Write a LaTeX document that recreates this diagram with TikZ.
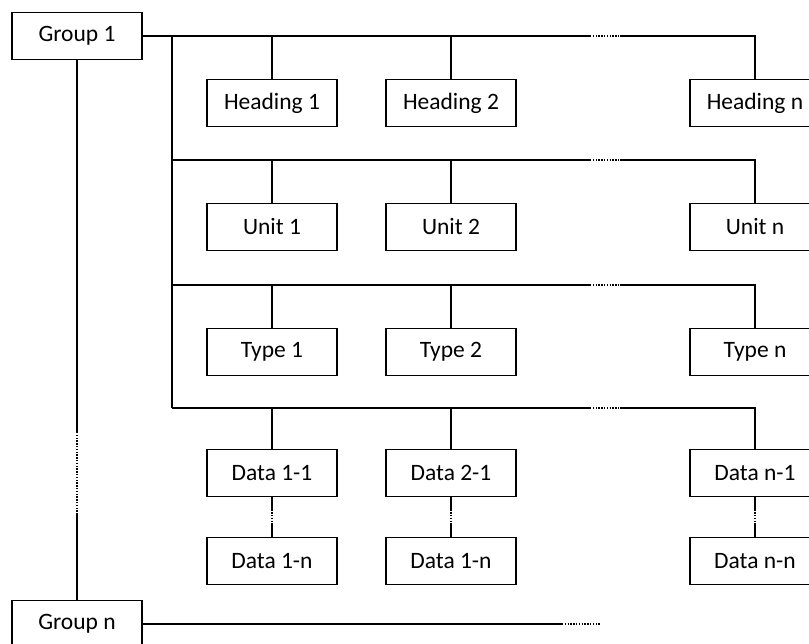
\documentclass[tikz,border=0pt]{standalone}
\usepackage{fontspec}
\setmainfont{Carlito}
\begin{document}
\begin{tikzpicture}[x=1pt,y=-1pt,
  box/.style={draw,line width=1.6pt,minimum width=130pt,minimum height=47pt,inner sep=0pt,font=\fontsize{23.5}{27}\selectfont},
  ln/.style={line width=1.6pt},
  dots/.style={line width=1.6pt,dash pattern=on 1.4pt off 1.4pt}]
\useasboundingbox (0,0) rectangle (809,644);
% groups
\node[box] (g1) at (77,36) {Group 1};
\node[box] (gn) at (77,624) {Group n};
% rows
\node[box] (h1) at (272,103) {Heading 1};
\node[box] (h2) at (451,103) {Heading 2};
\node[box] (hn) at (755,103) {Heading n};
\node[box] (u1) at (272,227) {Unit 1};
\node[box] (u2) at (451,227) {Unit 2};
\node[box] (un) at (755,227) {Unit n};
\node[box] (t1) at (272,352) {Type 1};
\node[box] (t2) at (451,352) {Type 2};
\node[box] (tn) at (755,352) {Type n};
\node[box] (d11) at (272,473) {Data 1-1};
\node[box] (d21) at (451,473) {Data 2-1};
\node[box] (dn1) at (755,473) {Data n-1};
\node[box] (d1n) at (272,561) {Data 1-n};
\node[box] (d2n) at (451,561) {Data 1-n};
\node[box] (dnn) at (755,561) {Data n-n};
% bus coordinates
\coordinate (b0) at (172,36);
\coordinate (b1) at (172,160);
\coordinate (b2) at (172,285);
\coordinate (b3) at (172,408);
\foreach \b/\a/\c/\n in {b0/h1/h2/hn, b1/u1/u2/un, b2/t1/t2/tn, b3/d11/d21/dn1}{
  \draw[ln] (\b) -- (590,0 |- \b);
  \draw[dots] (590,0 |- \b) -- (620,0 |- \b);
  \draw[ln] (620,0 |- \b) -- (\n.north |- \b) -- (\n.north);
  \draw[ln] (\a.north |- \b) -- (\a.north);
  \draw[ln] (\c.north |- \b) -- (\c.north);
}
\draw[ln] (g1.east) -- (b0);
\draw[ln] (b0) -- (b3);
% group 1 to group n
\coordinate (gv1) at (77,432);
\coordinate (gv2) at (77,513);
\draw[ln] (g1.south) -- (gv1);
\draw[dots] (gv1) -- (gv2);
\draw[ln] (gv2) -- (gn.north);
% group n line
\coordinate (gh1) at (562,624);
\coordinate (gh2) at (601,624);
\draw[ln] (gn.east) -- (gh1);
\draw[dots] (gh1) -- (gh2);
% data links
\foreach \p/\q in {d11/d1n, d21/d2n, dn1/dnn}{
  \draw[ln] (\p.south) -- ++(0,12) coordinate (\p a);
  \draw[dots] (\p a) -- ++(0,15) coordinate (\p b);
  \draw[ln] (\p b) -- (\q.north);
}
\end{tikzpicture}
\end{document}
